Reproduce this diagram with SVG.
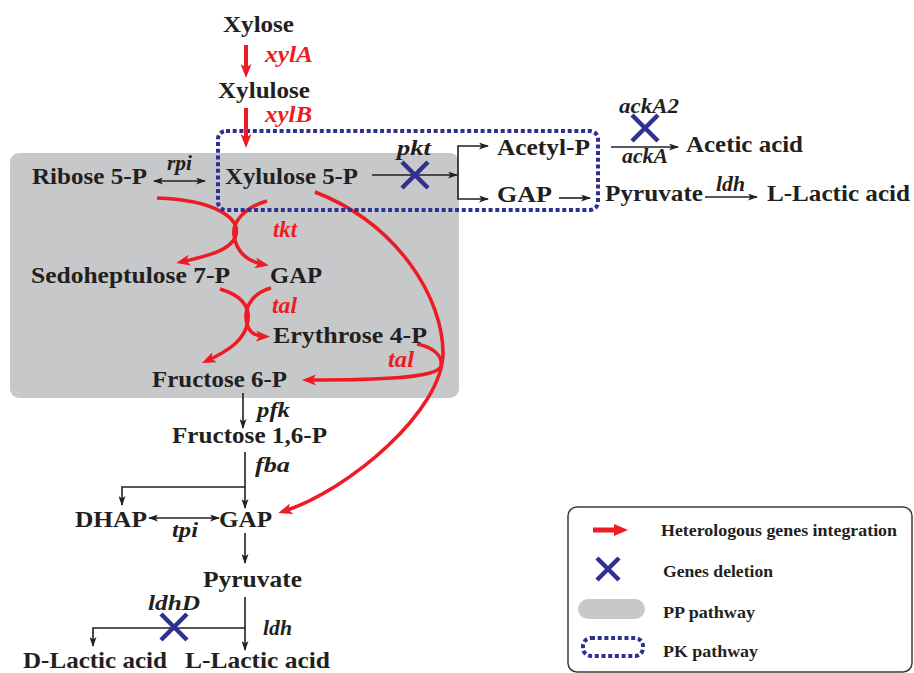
<svg xmlns="http://www.w3.org/2000/svg" width="914" height="673" viewBox="0 0 914 673">
<style>
text{font-family:"Liberation Serif","Times New Roman",serif;font-weight:bold;fill:#231f20}
.m{font-size:23.5px}
.g{font-size:22px;font-style:italic}
.r{fill:#ed1c24;font-size:23px}
.l{font-size:17px}
.k{fill:none;stroke:#231f20;stroke-width:1.6}
.rc{fill:none;stroke:#ed1c24;stroke-width:3.5}
.x{stroke:#2e3192;stroke-width:4.5;fill:none}
.dot{fill:none;stroke:#2e3192;stroke-width:4;stroke-dasharray:4 2.7}
</style>
<defs>
<marker id="ab" viewBox="0 0 10 7" refX="9" refY="3.5" markerWidth="10" markerHeight="7" markerUnits="userSpaceOnUse" orient="auto-start-reverse">
<path d="M0,0 L10,3.5 L0,7 L2.5,3.5 Z" fill="#231f20"/>
</marker>
<marker id="ar" viewBox="0 0 14 11" refX="9" refY="5.5" markerWidth="14" markerHeight="11" markerUnits="userSpaceOnUse" orient="auto">
<path d="M0,0 L14,5.5 L0,11 L3.5,5.5 Z" fill="#ed1c24"/>
</marker>
</defs>

<rect id="pp-box" x="10" y="153" width="449" height="245" rx="9" fill="#c7c8ca"/>

<g id="connectors">
<path class="k" d="M154,181 H205" marker-start="url(#ab)" marker-end="url(#ab)"/>
<path class="k" d="M372,175 H457" marker-end="url(#ab)"/>
<path class="k" d="M458,175 V146 H488" marker-end="url(#ab)"/>
<path class="k" d="M458,175 V199 H488" marker-end="url(#ab)"/>
<path class="k" d="M559,198 H590" marker-end="url(#ab)"/>
<path class="k" d="M611,147 H678" marker-end="url(#ab)"/>
<path class="k" d="M705,197 H757" marker-end="url(#ab)"/>
<path class="k" d="M243,393 V428" marker-end="url(#ab)"/>
<path class="k" d="M245,452 V508" marker-end="url(#ab)"/>
<path class="k" d="M245,487 H122 V505" marker-end="url(#ab)"/>
<path class="k" d="M149,518 H219" marker-start="url(#ab)" marker-end="url(#ab)"/>
<path class="k" d="M245,533 V563" marker-end="url(#ab)"/>
<path class="k" d="M245,597 V650" marker-end="url(#ab)"/>
<path class="k" d="M245,628 H93 V646" marker-end="url(#ab)"/>
<path class="rc" d="M157,198 C215,200 240,218 236,235 C232,250 208,256 181,262" marker-end="url(#ar)"/>
<path class="rc" d="M267,201 C245,207 232,222 234,235 C236,250 245,261 264,264.5" marker-end="url(#ar)"/>
<path class="rc" d="M220,289 C240,295 250,305 248,320 C246,340 228,351 206.5,361" marker-end="url(#ar)"/>
<path class="rc" d="M271,288 C255,292 245,305 246,318 C247,330 252,336 265,336.5" marker-end="url(#ar)"/>
<path class="rc" d="M417,344 C432,347 443,355 441,366 C438,378 380,380 307,380" marker-end="url(#ar)"/>
<path class="rc" d="M315,192 C400,225 443,300 443,353 C443,410 350,490 283,511.5" marker-end="url(#ar)"/>
</g>

<rect id="pk-box" class="dot" x="218" y="131" width="380" height="79" rx="8"/>

<g id="red-arrows">
<path d="M246,45 V73" stroke="#ed1c24" stroke-width="4" marker-end="url(#ar)"/>
<path d="M246,108 V143" stroke="#ed1c24" stroke-width="4" marker-end="url(#ar)"/>
</g>

<g id="deletions">
<path class="x" d="M402,162 L428,188 M428,162 L402,188"/>
<path class="x" d="M632,115 L658,141 M658,115 L632,141"/>
<path class="x" d="M161,614 L187,640 M187,614 L161,640"/>
</g>

<g id="n-xylose"><text class="m" x="223" y="32" textLength="71" lengthAdjust="spacingAndGlyphs">Xylose</text></g>
<g id="n-xylulose"><text class="m" x="218" y="98" textLength="92" lengthAdjust="spacingAndGlyphs">Xylulose</text></g>
<g id="n-ribose5p"><text class="m" x="32" y="184" textLength="115" lengthAdjust="spacingAndGlyphs">Ribose 5-P</text></g>
<g id="n-xylulose5p"><text class="m" x="225" y="184" textLength="133" lengthAdjust="spacingAndGlyphs">Xylulose 5-P</text></g>
<g id="n-acetylp"><text class="m" x="497" y="155" textLength="93" lengthAdjust="spacingAndGlyphs">Acetyl-P</text></g>
<g id="n-gap-pk"><text class="m" x="497" y="202" textLength="55" lengthAdjust="spacingAndGlyphs">GAP</text></g>
<g id="n-acetic"><text class="m" x="686" y="152" textLength="117" lengthAdjust="spacingAndGlyphs">Acetic acid</text></g>
<g id="n-pyruvate-pk"><text class="m" x="605" y="201" textLength="98" lengthAdjust="spacingAndGlyphs">Pyruvate</text></g>
<g id="n-llactic-pk"><text class="m" x="767" y="201" textLength="143" lengthAdjust="spacingAndGlyphs">L-Lactic acid</text></g>
<g id="n-sedo"><text class="m" x="31" y="283" textLength="199" lengthAdjust="spacingAndGlyphs">Sedoheptulose 7-P</text></g>
<g id="n-gap-pp"><text class="m" x="270" y="283" textLength="52" lengthAdjust="spacingAndGlyphs">GAP</text></g>
<g id="n-ery"><text class="m" x="273" y="343" textLength="154" lengthAdjust="spacingAndGlyphs">Erythrose 4-P</text></g>
<g id="n-f6p"><text class="m" x="152" y="387" textLength="135" lengthAdjust="spacingAndGlyphs">Fructose 6-P</text></g>
<g id="n-f16p"><text class="m" x="172" y="443" textLength="155" lengthAdjust="spacingAndGlyphs">Fructose 1,6-P</text></g>
<g id="n-dhap"><text class="m" x="75" y="527" textLength="72" lengthAdjust="spacingAndGlyphs">DHAP</text></g>
<g id="n-gap"><text class="m" x="219" y="527" textLength="53" lengthAdjust="spacingAndGlyphs">GAP</text></g>
<g id="n-pyruvate"><text class="m" x="203" y="587" textLength="99" lengthAdjust="spacingAndGlyphs">Pyruvate</text></g>
<g id="n-dlactic"><text class="m" x="23" y="668" textLength="144" lengthAdjust="spacingAndGlyphs">D-Lactic acid</text></g>
<g id="n-llactic"><text class="m" x="185" y="668" textLength="145" lengthAdjust="spacingAndGlyphs">L-Lactic acid</text></g>

<g id="gene-labels">
<text class="g r" x="265" y="62" textLength="48" lengthAdjust="spacingAndGlyphs">xylA</text>
<text class="g r" x="265" y="122" textLength="47" lengthAdjust="spacingAndGlyphs">xylB</text>
<text class="g" x="167" y="170" textLength="25" lengthAdjust="spacingAndGlyphs">rpi</text>
<text class="g" x="397" y="155" textLength="34" lengthAdjust="spacingAndGlyphs">pkt</text>
<text class="g" x="619" y="113" textLength="60" lengthAdjust="spacingAndGlyphs">ackA2</text>
<text class="g" x="622" y="163" textLength="46" lengthAdjust="spacingAndGlyphs">ackA</text>
<text class="g" x="716" y="191" textLength="29" lengthAdjust="spacingAndGlyphs">ldh</text>
<text class="g r" x="273" y="237" textLength="24" lengthAdjust="spacingAndGlyphs">tkt</text>
<text class="g r" x="272" y="313" textLength="25" lengthAdjust="spacingAndGlyphs">tal</text>
<text class="g r" x="388" y="367" textLength="26" lengthAdjust="spacingAndGlyphs">tal</text>
<text class="g" x="257" y="417" textLength="33" lengthAdjust="spacingAndGlyphs">pfk</text>
<text class="g" x="255" y="472" textLength="35" lengthAdjust="spacingAndGlyphs">fba</text>
<text class="g" x="172" y="537" textLength="26" lengthAdjust="spacingAndGlyphs">tpi</text>
<text class="g" x="148" y="610" textLength="52" lengthAdjust="spacingAndGlyphs">ldhD</text>
<text class="g" x="263" y="635" textLength="29" lengthAdjust="spacingAndGlyphs">ldh</text>
</g>

<g id="legend">
<rect x="568" y="507" width="344" height="165" rx="9" fill="none" stroke="#3a3a3a" stroke-width="1.5"/>
<path d="M593,527.5 H614 V524 L628,530 L614,536 V532.5 H593 Z" fill="#ed1c24"/>
<text class="l" x="661" y="536" textLength="236" lengthAdjust="spacingAndGlyphs">Heterologous genes integration</text>
<path class="x" d="M597,558 L619,580 M619,558 L597,580"/>
<text class="l" x="663" y="577" textLength="110" lengthAdjust="spacingAndGlyphs">Genes deletion</text>
<rect x="578" y="599" width="67" height="20" rx="10" fill="#c7c8ca"/>
<text class="l" x="663" y="618" textLength="92" lengthAdjust="spacingAndGlyphs">PP pathway</text>
<rect class="dot" x="583" y="638" width="60" height="18" rx="8"/>
<text class="l" x="663" y="657" textLength="95" lengthAdjust="spacingAndGlyphs">PK pathway</text>
</g>
</svg>
